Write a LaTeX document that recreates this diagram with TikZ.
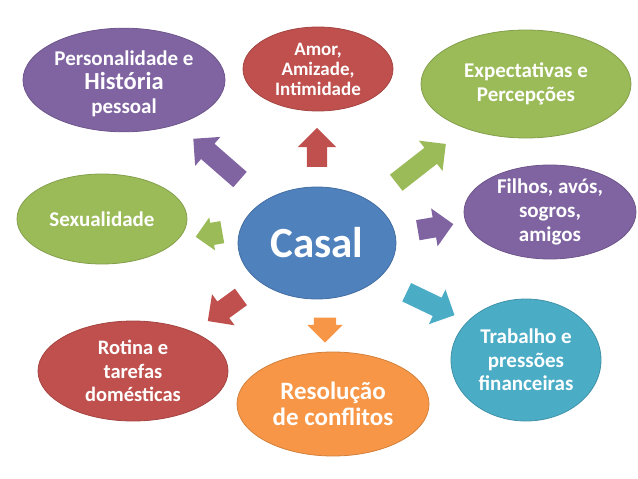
\documentclass[tikz,border=0pt]{standalone}
\usepackage{fontspec}
\setmainfont{Carlito}
\usetikzlibrary{shapes.geometric,shapes.arrows}
\definecolor{cpurple}{HTML}{8064A2}
\definecolor{cred}{HTML}{C0504D}
\definecolor{cgreen}{HTML}{9BBB59}
\definecolor{cblue}{HTML}{4F81BD}
\definecolor{corange}{HTML}{F79646}
\definecolor{cteal}{HTML}{4BACC6}
\begin{document}
\begin{tikzpicture}[x=1pt,y=-1pt,
  bub/.style={ellipse, inner sep=0pt, fill=#1, draw=#1!85!black, line width=0.8pt,
              text=white, align=center, font=\bfseries},
  blk/.style={single arrow, draw=none, fill=#1, inner xsep=0pt, inner ysep=10pt,
              single arrow head extend=9pt, single arrow tip angle=90},
  fs/.style 2 args={font=\fontsize{#1}{#2}\selectfont\bfseries}]
\useasboundingbox (0,0) rectangle (638,479);
% bubbles
\node[bub=cpurple, minimum width=202pt, minimum height=90pt, fs={21}{24}] (pers) at (124,80)
  {\rule{0pt}{22pt}Personalidade e\\{\fontsize{24.5}{24}\selectfont História}\hspace*{18pt}\\pessoal};
\node[bub=cred, minimum width=150pt, minimum height=84pt, fs={19}{20}] (amor) at (318,69)
  {Amor,\\Amizade,\\Intimidade};
\node[bub=cgreen, minimum width=210pt, minimum height=108pt, fs={21}{24}] (expe) at (526,84)
  {Expectativas e\\Percepções};
\node[bub=cpurple, minimum width=172pt, minimum height=94pt, fs={21}{24}] (filh) at (550,212)
  {Filhos, avós,\\sogros,\\amigos};
\node[bub=cgreen, minimum width=170pt, minimum height=90pt, fs={21}{24}] (sexu) at (102,219)
  {Sexualidade};
\node[bub=cblue, minimum width=158pt, minimum height=112pt, fs={43}{44}] (casal) at (317,243)
  {Casal};
\node[bub=cred, minimum width=190pt, minimum height=100pt, fs={20.5}{23.5}] (roti) at (133,371)
  {Rotina e\\tarefas\\domésticas};
\node[bub=corange, minimum width=192pt, minimum height=104pt, fs={25}{26}] (reso) at (333,404)
  {Resolução\\de conflitos};
\node[bub=cteal, minimum width=150pt, minimum height=122pt, fs={21}{23.5}] (trab) at (526,360)
  {Trabalho e\\pressões\\financeiras};
% block arrows
\node[blk=cpurple, minimum height=62pt, rotate=138.9] (a1) at (220.5,162.5) {};
\node[blk=cred, minimum height=39pt, rotate=90] (a2) at (317,152.5) {};
\node[blk=cgreen, minimum height=63pt, rotate=38] (a3) at (417,166.5) {};
\node[blk=cpurple, minimum height=36pt, rotate=9.7] (a4) at (430.5,228) {};
\node[blk=cgreen, minimum height=27pt, inner ysep=11pt, single arrow head extend=5.5pt, rotate=190] (a5) at (214.5,233.5) {};
\node[blk=cred, minimum height=41pt, rotate=216] (a6) at (228.5,306) {};
\node[blk=corange, minimum height=25pt, inner ysep=11pt, single arrow head extend=6.5pt, rotate=270] (a7) at (325,324.5) {};
\node[blk=cteal, minimum height=53pt, rotate=-25.6] (a8) at (426,301.5) {};
\end{tikzpicture}
\end{document}
